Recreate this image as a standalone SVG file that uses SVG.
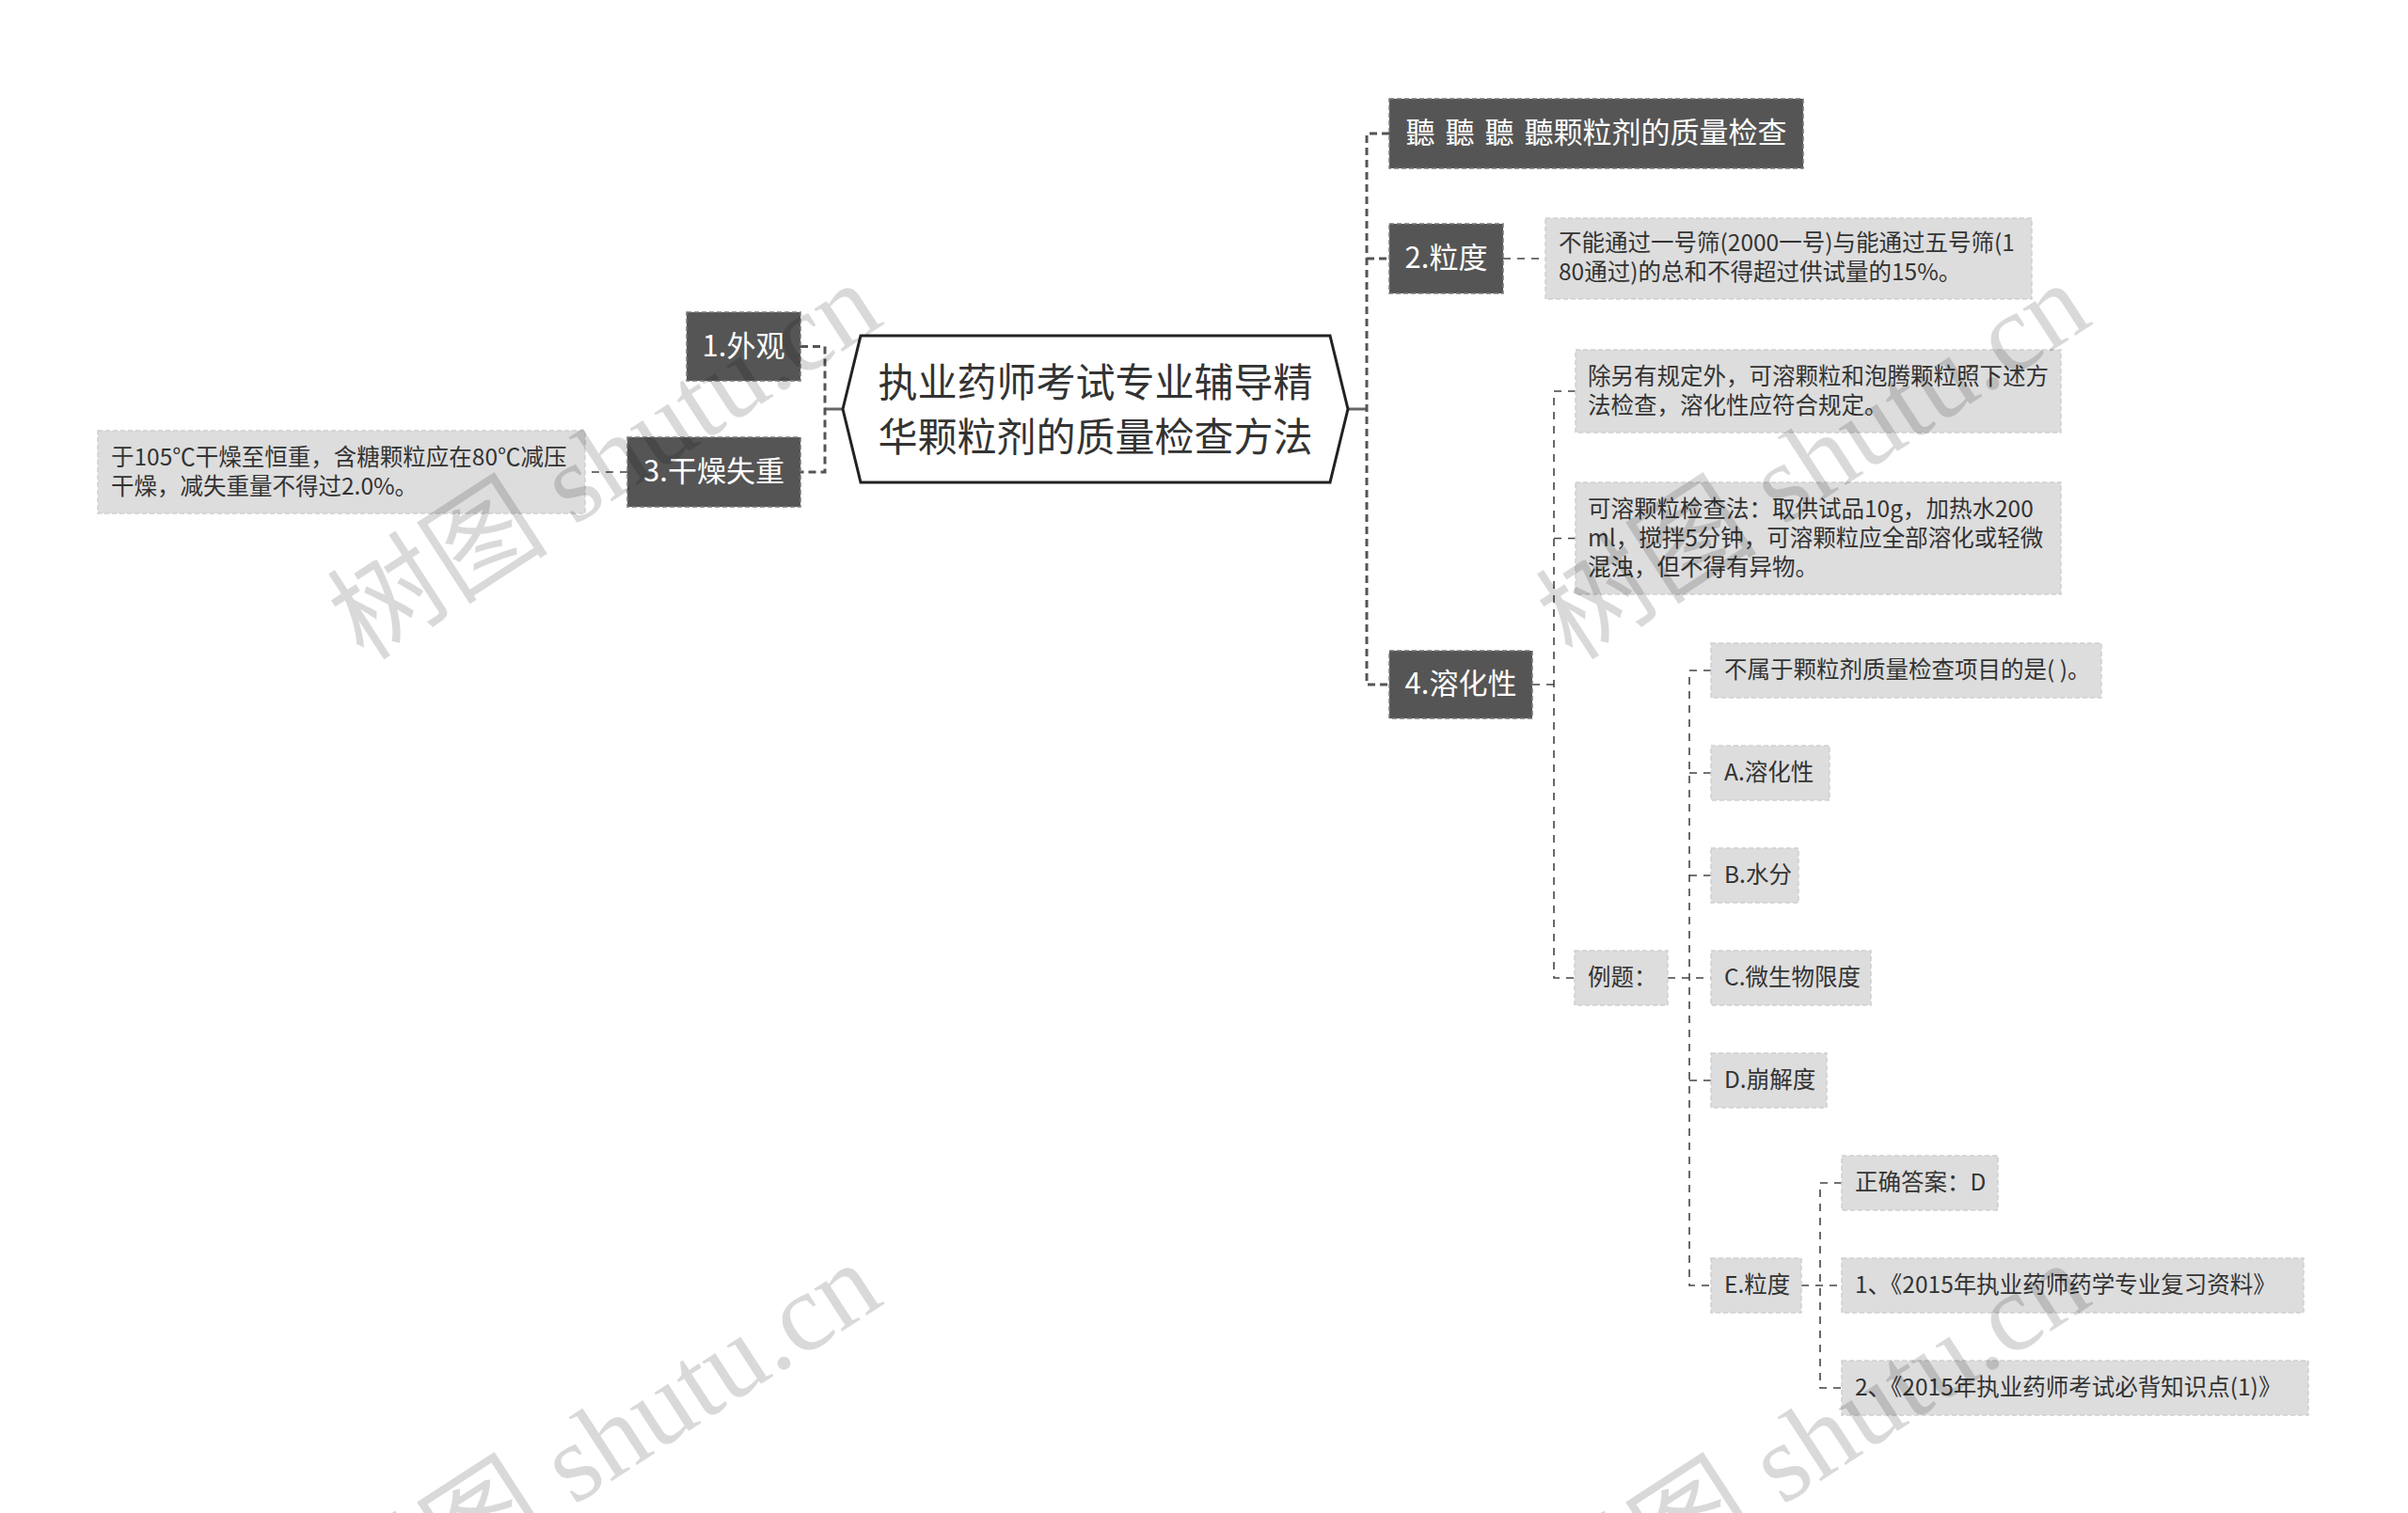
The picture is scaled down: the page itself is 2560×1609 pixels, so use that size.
<svg xmlns="http://www.w3.org/2000/svg" width="2560" height="1609" viewBox="0 0 2560 1609">
<style>
text{font-family:"Noto Sans CJK SC","Noto Sans",sans-serif;}
.dk{fill:#555555;stroke:#7a7a7a;stroke-width:1.5;stroke-dasharray:5 3;}
.lt{fill:#dddddd;stroke:#cfcfcf;stroke-width:1.5;stroke-dasharray:5 3;}
.dt{fill:#ffffff;font-size:31px;text-anchor:middle;}
.tt{fill:#333333;font-size:24.5px;}
.c1{fill:none;stroke:#555555;stroke-width:3;stroke-dasharray:8 5;}
.c2{fill:none;stroke:#444444;stroke-width:1.6;stroke-dasharray:8 7;}
.cs{fill:none;stroke:#666666;stroke-width:3;}
.wm{font-family:"Liberation Serif","Noto Sans CJK SC",serif;font-size:118px;fill:#000000;fill-opacity:0.15;}
</style>
<rect width="2560" height="1609" fill="#ffffff"/>
<g id="connectors">
<path class="cs" d="M877 435H896"/>
<path class="c1" d="M851 368.5H877V502H851"/>
<path class="c2" d="M667 502H622"/>
<path class="cs" d="M1433 435H1453"/>
<path class="c1" d="M1477 142H1453V728H1477M1453 275H1477"/>
<path class="c2" d="M1598 275H1643"/>
<path class="c2" d="M1629 728H1652M1675 416H1652V1040H1674M1652 572.5H1675"/>
<path class="c2" d="M1773 1040H1819M1819 713H1796V1367H1819M1796 822H1819M1796 931H1819M1796 1149H1819"/>
<path class="c2" d="M1915 1367H1958M1958 1258H1935V1476H1958"/>
</g>
<g id="center">
<polygon points="896,435 915,357 1414,357 1433,435 1414,513 915,513" fill="#ffffff" stroke="#222222" stroke-width="3"/>
<text x="1164.5" y="422" font-size="42" fill="#333333" text-anchor="middle">执业药师考试专业辅导精</text>
<text x="1164.5" y="480" font-size="42" fill="#333333" text-anchor="middle">华颗粒剂的质量检查方法</text>
</g>
<g id="n1"><rect class="dk" x="730" y="332" width="121" height="73"/><text class="dt" x="790.5" y="379">1.外观</text></g>
<g id="n3"><rect class="dk" x="667" y="465" width="184" height="74"/><text class="dt" x="759" y="512">3.干燥失重</text></g>
<g id="n3t"><rect class="lt" x="104" y="458" width="518" height="88"/><text class="tt" x="118" y="495">于105℃干燥至恒重，含糖颗粒应在80℃减压</text><text class="tt" x="118" y="526">干燥，减失重量不得过2.0%。</text></g>
<g id="nT"><rect class="dk" x="1477" y="105" width="440" height="74"/><text class="dt" x="1697" y="152" xml:space="preserve" word-spacing="4">聽 聽 聽 聽颗粒剂的质量检查</text></g>
<g id="n2"><rect class="dk" x="1477" y="238" width="121" height="74"/><text class="dt" x="1537.5" y="285">2.粒度</text></g>
<g id="n2t"><rect class="lt" x="1643" y="232" width="517" height="86"/><text class="tt" x="1657" y="267">不能通过一号筛(2000一号)与能通过五号筛(1</text><text class="tt" x="1657" y="298">80通过)的总和不得超过供试量的15%。</text></g>
<g id="n4"><rect class="dk" x="1477" y="692" width="152" height="72"/><text class="dt" x="1553" y="738">4.溶化性</text></g>
<g id="n4a"><rect class="lt" x="1675" y="372" width="516" height="88"/><text class="tt" x="1688" y="409">除另有规定外，可溶颗粒和泡腾颗粒照下述方</text><text class="tt" x="1688" y="440">法检查，溶化性应符合规定。</text></g>
<g id="n4b"><rect class="lt" x="1675" y="513" width="516" height="119"/><text class="tt" x="1688" y="550">可溶颗粒检查法：取供试品10g，加热水200</text><text class="tt" x="1688" y="581">ml，搅拌5分钟，可溶颗粒应全部溶化或轻微</text><text class="tt" x="1688" y="612">混浊，但不得有异物。</text></g>
<g id="ex"><rect class="lt" x="1674" y="1011" width="99" height="58"/><text class="tt" x="1688" y="1048">例题：</text></g>
<g id="q"><rect class="lt" x="1819" y="684" width="415" height="58"/><text class="tt" x="1833" y="721">不属于颗粒剂质量检查项目的是( )。</text></g>
<g id="oA"><rect class="lt" x="1819" y="793" width="126" height="58"/><text class="tt" x="1833" y="830">A.溶化性</text></g>
<g id="oB"><rect class="lt" x="1819" y="902" width="93" height="58"/><text class="tt" x="1833" y="939">B.水分</text></g>
<g id="oC"><rect class="lt" x="1819" y="1011" width="170" height="58"/><text class="tt" x="1833" y="1048">C.微生物限度</text></g>
<g id="oD"><rect class="lt" x="1819" y="1120" width="123" height="58"/><text class="tt" x="1833" y="1157">D.崩解度</text></g>
<g id="oE"><rect class="lt" x="1819" y="1338" width="96" height="58"/><text class="tt" x="1833" y="1375">E.粒度</text></g>
<g id="ans"><rect class="lt" x="1958" y="1229" width="166" height="58"/><text class="tt" x="1972" y="1266">正确答案：D</text></g>
<g id="r1"><rect class="lt" x="1958" y="1338" width="491" height="58"/><text class="tt" x="1972" y="1375">1、《2015年执业药师药学专业复习资料》</text></g>
<g id="r2"><rect class="lt" x="1958" y="1447" width="496" height="58"/><text class="tt" x="1972" y="1484">2、《2015年执业药师考试必背知识点(1)》</text></g>
<g id="watermarks">
<text class="wm" transform="translate(387,704) rotate(-33)">树图 shutu.cn</text>
<text class="wm" transform="translate(1672,704) rotate(-33)">树图 shutu.cn</text>
<text class="wm" transform="translate(387,1746) rotate(-33)">树图 shutu.cn</text>
<text class="wm" transform="translate(1672,1746) rotate(-33)">树图 shutu.cn</text>
</g>
</svg>
